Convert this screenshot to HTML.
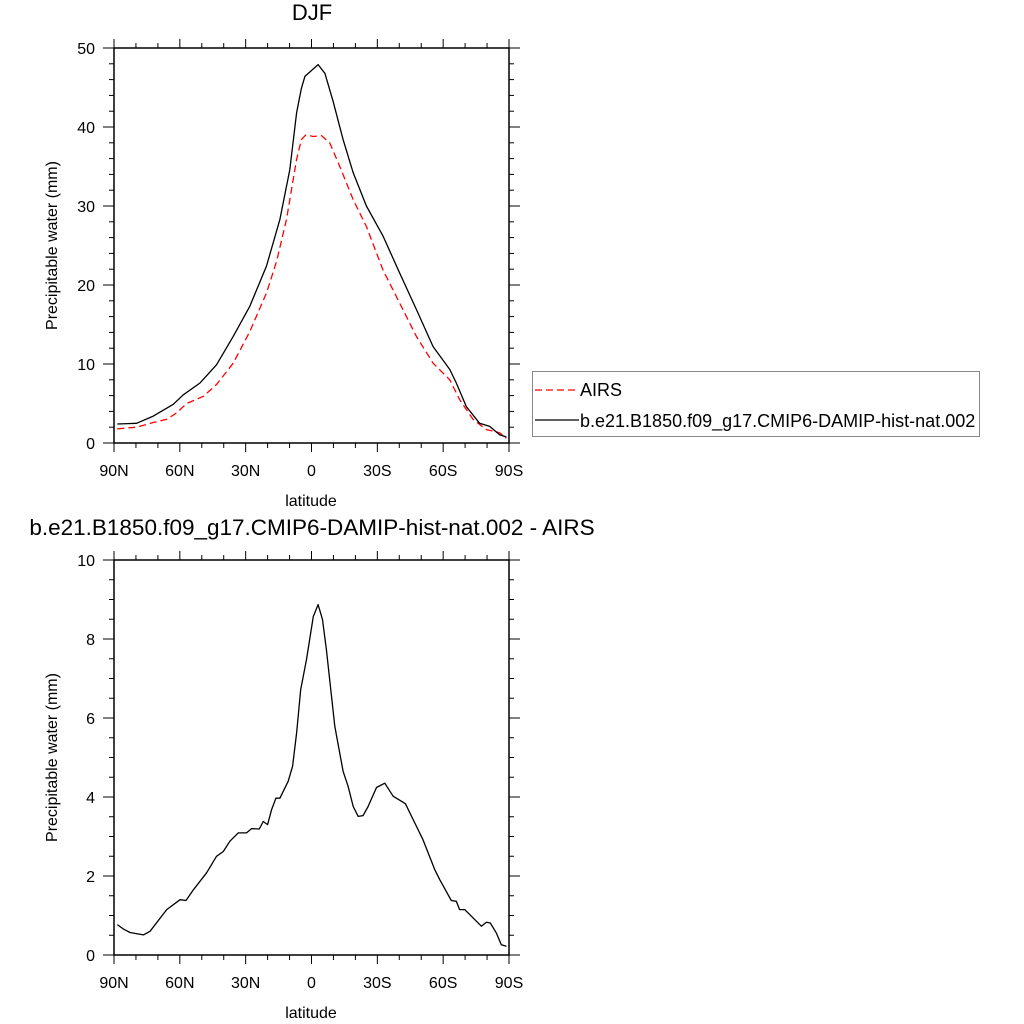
<!DOCTYPE html>
<html><head><meta charset="utf-8"><style>
html,body{margin:0;padding:0;background:#fff;}
svg{display:block;font-family:"Liberation Sans",sans-serif;}
</style></head><body>
<svg id="c" width="1024" height="1024" xmlns="http://www.w3.org/2000/svg"></svg>
<script>
const xTickLabels=["90N","60N","30N","0","30S","60S","90S"];
const xTickVals=[90,60,30,0,-30,-60,-90];
const topYTicks=[0,10,20,30,40,50];
const botYTicks=[0,2,4,6,8,10];
const airsLat=[88.5,79.7,72.1,66.0,61.5,56.9,49.3,43.3,35.7,28.1,20.5,15.9,11.4,6.8,4.6,2.6,-0.8,-4.6,-8.3,-12.9,-19.0,-25.0,-32.6,-40.2,-47.8,-55.4,-63.0,-67.5,-73.6,-79.7,-85.7,-88.8];
const airsVal=[1.8,2.0,2.6,3.0,3.8,5.0,5.9,7.4,10.1,14.1,19.0,23.0,28.3,35.9,38.4,39.0,38.8,38.9,38.0,35.0,30.8,27.4,21.9,17.7,13.5,10.1,8.0,5.5,3.0,1.7,1.3,0.6];
const modelLat=[88.5,79.7,72.1,63.0,58.4,50.8,43.3,35.7,28.1,20.5,14.4,9.9,6.8,4.6,3.0,-3.0,-6.1,-9.9,-14.4,-19.0,-25.0,-32.6,-40.2,-47.8,-55.4,-63.0,-66.0,-70.6,-76.6,-81.2,-85.7,-88.8];
const modelVal=[2.4,2.5,3.4,4.9,6.1,7.6,9.9,13.5,17.3,22.4,28.3,34.6,41.8,44.9,46.4,47.9,46.8,43.2,38.4,34.2,30.0,26.2,21.5,16.9,12.2,9.3,7.6,4.6,2.5,2.1,1.05,0.76];
const diffLat=[88.5,85.8,82.7,76.6,73.6,66.0,59.9,57.2,53.8,47.8,43.3,40.2,37.2,33.4,29.6,27.3,23.8,22.0,20.0,18.2,16.2,14.4,10.6,8.6,6.8,4.9,2.3,-0.8,-3.0,-5.0,-6.8,-10.6,-14.4,-16.7,-19.0,-21.3,-23.5,-25.8,-29.6,-33.4,-37.2,-42.8,-46.3,-50.8,-56.2,-58.4,-63.7,-66.0,-67.5,-69.8,-77.4,-79.7,-81.5,-84.2,-86.5,-88.8];
const diffVal=[0.77,0.66,0.57,0.51,0.60,1.15,1.40,1.38,1.65,2.08,2.50,2.62,2.88,3.09,3.09,3.20,3.19,3.38,3.30,3.68,3.97,3.97,4.40,4.78,5.62,6.72,7.48,8.57,8.87,8.49,7.73,5.79,4.65,4.27,3.76,3.51,3.53,3.76,4.24,4.35,4.02,3.83,3.43,2.92,2.16,1.91,1.38,1.36,1.15,1.15,0.73,0.83,0.81,0.56,0.26,0.22];

const svg=document.getElementById('c');
const NS="http://www.w3.org/2000/svg";
function mk(tag,attrs,parent){const e=document.createElementNS(NS,tag);for(const k in attrs)e.setAttribute(k,attrs[k]);(parent||svg).appendChild(e);return e;}

function panel(name,top,bottom,ymax,yMinor,yTicks,series,title){
  const L=114,R=509;
  const g=mk('g',{});
  
  
  const xs=lat=>L+(90-lat)/180*(R-L);
  const ys=v=>bottom-v/ymax*(bottom-top);
  for(let lat=90;lat>=-90;lat-=10){
    const x=xs(lat);const maj=(lat%30===0);const len=maj?9:5;
    mk('line',{x1:x,y1:bottom,x2:x,y2:bottom+len,stroke:'#000','stroke-width':1},g);
    mk('line',{x1:x,y1:top,x2:x,y2:top-len,stroke:'#000','stroke-width':1},g);
  }
  for(let v=0;v<=ymax+1e-9;v+=yMinor){
    const y=ys(v);const maj=Math.abs(v/(ymax/5)-Math.round(v/(ymax/5)))<1e-6;const len=maj?11:5;
    mk('line',{x1:L,y1:y,x2:L-len,y2:y,stroke:'#000','stroke-width':1},g);
    mk('line',{x1:R,y1:y,x2:R+len,y2:y,stroke:'#000','stroke-width':1},g);
  }
  const fr=mk('rect',{x:L,y:top,width:R-L,height:bottom-top,fill:'none',stroke:'#000','stroke-width':1.5},g);
  
  
  xTickVals.forEach((lat,i)=>{
    const t=mk('text',{x:xs(lat),y:bottom+33,'text-anchor':'middle','font-size':16},g);
    t.textContent=xTickLabels[i];
    
    
  });
  yTicks.forEach(v=>{
    const t=mk('text',{x:95,y:ys(v)+6,'text-anchor':'end','font-size':16},g);
    t.textContent=v;
    
    
  });
  const xt=mk('text',{x:311,y:bottom+63,'text-anchor':'middle','font-size':16},g);
  xt.textContent='latitude';
  
  
  const cy=(top+bottom)/2;
  const yt=mk('text',{x:57,y:cy,'text-anchor':'middle','font-size':16,transform:`rotate(-90 57 ${cy})`},g);
  yt.textContent='Precipitable water (mm)';
  
  
  const tt=mk('text',title.pos,g);
  tt.textContent=title.text;
  
  
  series.forEach(s=>{
    const d=s.lat.map((l,i)=>(i?'L':'M')+xs(l).toFixed(1)+','+ys(s.val[i]).toFixed(1)).join(' ');
    const p=mk('path',{d:d,fill:'none',stroke:s.color,'stroke-width':1.3,'stroke-dasharray':s.dash||'none','stroke-linejoin':'round'},g);
    
    
  });
}
panel('top-panel',48,443,50,2,topYTicks,[
  {lat:airsLat,val:airsVal,color:'#ff0000',dash:'7,4',name:'airs-line'},
  {lat:modelLat,val:modelVal,color:'#000',name:'model-line'}
],{text:'DJF',pos:{x:312,y:20,'text-anchor':'middle','font-size':22}});
panel('bottom-panel',560,955,10,0.5,botYTicks,[
  {lat:diffLat,val:diffVal,color:'#000',name:'difference-line'}
],{text:'b.e21.B1850.f09_g17.CMIP6-DAMIP-hist-nat.002 - AIRS',pos:{x:312,y:535,'text-anchor':'middle','font-size':22.5}});

const lg=mk('g',{});


mk('rect',{x:532.5,y:371.5,width:447,height:65,fill:'#fff',stroke:'#888','stroke-width':1},lg);
const e1=mk('g',{},lg);


mk('line',{x1:535,y1:390,x2:579,y2:390,stroke:'#ff0000','stroke-width':1.2,'stroke-dasharray':'7,4'},e1);
const t1=mk('text',{x:580,y:396,'font-size':18},e1);t1.textContent='AIRS';
const e2=mk('g',{},lg);


mk('line',{x1:535,y1:420,x2:579,y2:420,stroke:'#000','stroke-width':1.2},e2);
const t2=mk('text',{x:580,y:427,'font-size':18},e2);t2.textContent='b.e21.B1850.f09_g17.CMIP6-DAMIP-hist-nat.002';
</script>
</body></html>
